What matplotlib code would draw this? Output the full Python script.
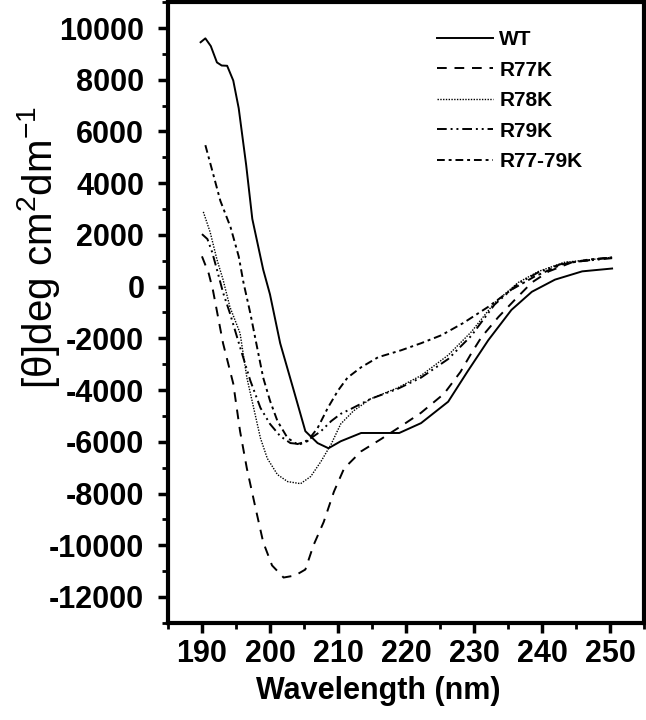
import matplotlib
matplotlib.use("Agg")
import matplotlib.pyplot as plt
from matplotlib.ticker import MultipleLocator

# ---------------- data ----------------
wt_x = [189.8, 190.5, 191.3, 192.2, 192.9, 193.7, 194.6, 195.4, 196.5, 197.4, 199.0,
        200.0, 201.5, 203.5, 205.2, 207.0, 208.6, 210.4, 213.4, 216.0, 219.0, 222.2,
        226.2, 229.0, 232.1, 235.5, 238.5, 241.9, 245.9, 250.3]
wt_y = [9450, 9600, 9300, 8670, 8550, 8540, 7970, 6900, 4700, 2620, 660,
        -300, -2190, -4020, -5590, -6050, -6250, -5980, -5660, -5660, -5660, -5280,
        -4450, -3300, -2070, -900, -200, 270, 590, 700]

r77k_x = [190.0, 191.0, 191.6, 193.1, 194.6, 195.6, 196.6, 197.9, 199.0, 200.3, 202.0,
          203.7, 205.2, 206.4, 207.9, 209.4, 210.9, 213.4, 216.3, 219.3, 222.2, 225.6,
          228.0, 229.6, 231.1, 233.6, 236.0, 238.5, 241.0, 244.4, 250.3]
r77k_y = [1170, 500, -120, -2190, -3750, -5590, -7030, -8590, -9880, -10780, -11250,
          -11170, -10940, -10000, -9100, -7930, -7030, -6370, -5900, -5390, -4880, -4140,
          -3300, -2580, -1950, -1170, -510, 160, 590, 940, 1130]

r78k_x = [190.2, 191.2, 192.2, 193.1, 194.1, 195.6, 196.6, 197.6, 198.6, 199.6, 201.1,
          202.6, 204.5, 206.0, 207.5, 209.0, 210.4, 212.3, 214.8, 218.8, 222.2, 226.2,
          229.6, 233.0, 236.5, 239.5, 243.3, 250.3]
r78k_y = [2890, 2110, 1050, 270, -780, -1800, -3520, -4690, -5860, -6640, -7270,
          -7540, -7620, -7340, -6760, -6090, -5310, -4800, -4340, -3910, -3440, -2650,
          -1750, -630, 160, 590, 940, 1130]

r79k_x = [190.0, 190.8, 191.5, 192.2, 193.1, 194.1, 195.6, 197.1, 198.6, 200.0, 201.5,
          203.0, 204.5, 206.0, 207.5, 209.0, 210.4, 211.9, 214.8, 218.8, 222.2, 226.2,
          229.6, 233.0, 236.5, 239.5, 243.3, 250.3]
r79k_y = [2030, 1840, 1330, 660, -230, -1020, -2340, -3630, -4690, -5310, -5780,
          -6050, -6090, -5860, -5590, -5200, -4920, -4730, -4340, -3950, -3520, -2800,
          -1900, -700, 120, 560, 920, 1100]

r7779k_x = [190.5, 191.6, 192.7, 194.2, 195.4, 196.1, 197.1, 198.1, 199.0, 200.0, 201.1,
            202.6, 204.0, 205.5, 207.0, 208.5, 210.0, 211.4, 213.4, 215.9, 219.3, 222.2,
            225.2, 228.4, 232.1, 235.5, 238.9, 242.9, 246.9, 250.3]
r7779k_y = [5470, 4400, 3320, 2300, 1170, 160, -1020, -2340, -3520, -4410, -5200,
            -5860, -6090, -5980, -5470, -4690, -4020, -3520, -3120, -2730, -2460, -2190,
            -1880, -1410, -780, -120, 390, 860, 1050, 1130]

labels = ["WT", "R77K", "R78K", "R79K", "R77-79K"]
x_ticks = [190, 200, 210, 220, 230, 240, 250]
y_ticks = [-12000, -10000, -8000, -6000, -4000, -2000, 0, 2000, 4000, 6000, 8000, 10000]

# ---------------- figure ----------------
plt.rcParams['font.family'] = ['Liberation Sans', 'DejaVu Sans']
plt.rcParams['axes.unicode_minus'] = False
plt.rcParams['mathtext.fontset'] = 'custom'
plt.rcParams['mathtext.rm'] = 'Liberation Sans'
plt.rcParams['mathtext.it'] = 'Liberation Sans:italic'
plt.rcParams['mathtext.bf'] = 'Liberation Sans:bold'

fig = plt.figure(figsize=(6.46, 7.2), dpi=100)
ax = fig.add_axes([0.26, 0.135, 0.737, 0.862])

lw = 1.4
ax.plot(wt_x, wt_y, color='black', lw=lw, linestyle='-', label=labels[0])
ax.plot(r77k_x, r77k_y, color='black', lw=lw, linestyle=(0, (5, 4)), label=labels[1])
ax.plot(r78k_x, r78k_y, color='black', lw=1.0, linestyle=(0, (1, 1)), label=labels[2])
ax.plot(r79k_x, r79k_y, color='black', lw=lw, linestyle=(0, (5, 2, 1, 2, 1, 2)), label=labels[3])
ax.plot(r7779k_x, r7779k_y, color='black', lw=lw, linestyle=(0, (4, 2, 1.5, 2)), label=labels[4])

ax.set_xlim(185, 255)
ax.set_ylim(-13000, 11000)
ax.set_xticks(x_ticks)
ax.set_yticks(y_ticks)
ax.xaxis.set_minor_locator(MultipleLocator(5))
ax.yaxis.set_minor_locator(MultipleLocator(1000))

for s in ax.spines.values():
    s.set_linewidth(3)
ax.tick_params(which='major', direction='out', length=7, width=2.5, labelsize=22)
ax.tick_params(axis='y', which='major', pad=10)
ax.tick_params(axis='x', which='major', pad=5)
ax.tick_params(which='minor', direction='out', length=4, width=2)
for lab in ax.get_xticklabels() + ax.get_yticklabels():
    lab.set_fontweight('bold')

ax.set_xlabel("Wavelength (nm)", fontsize=22, fontweight='bold')
ax.xaxis.set_label_coords(0.441, -0.085)
ax.set_ylabel("[θ]deg cm$^{2}$dm$^{-1}$", fontsize=29)
ax.yaxis.set_label_coords(-0.222, 0.605)

leg = ax.legend(loc='upper right', bbox_to_anchor=(0.91, 0.985), frameon=False,
                prop={'size': 15, 'weight': 'bold'}, handlelength=2.7,
                labelspacing=0.55, handletextpad=0.3)

fig.savefig("out.png", dpi=100)
